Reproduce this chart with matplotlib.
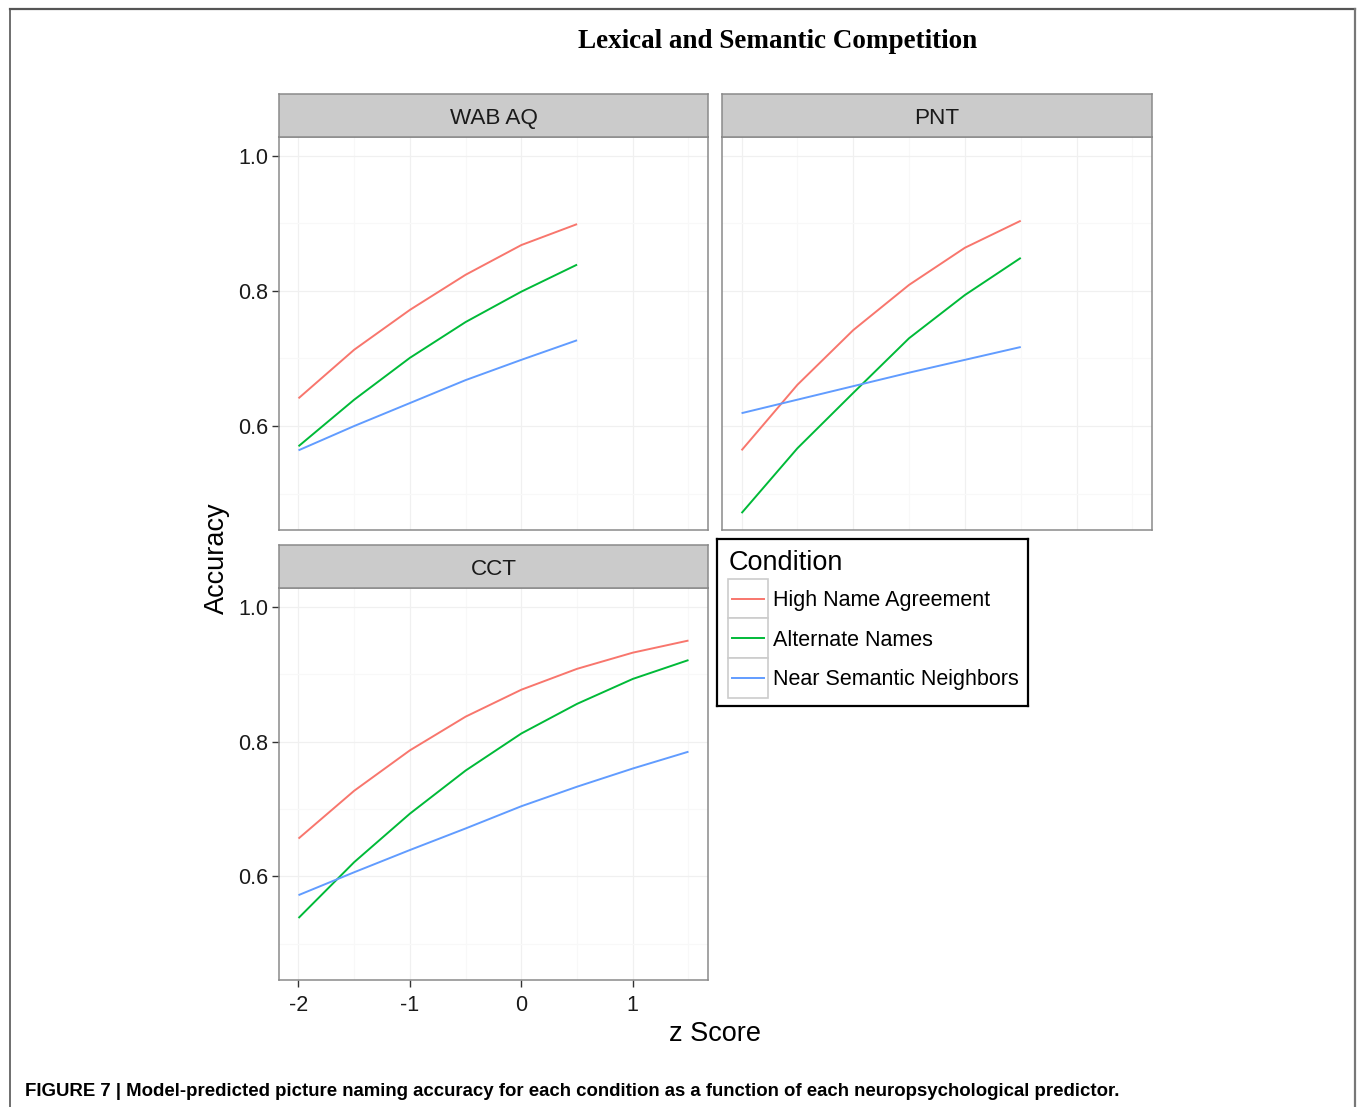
import matplotlib
matplotlib.use('Agg')
import matplotlib.pyplot as plt
from matplotlib.patches import Rectangle
from matplotlib.lines import Line2D

# Data
conditions = ['High Name Agreement', 'Alternate Names', 'Near Semantic Neighbors']
colors = ['#F8766D', '#00BA38', '#619CFF']

z_wab = [-2, -1.5, -1, -0.5, 0, 0.5]
wab_high = [0.641, 0.713, 0.772, 0.824, 0.868, 0.899]
wab_alt = [0.570, 0.639, 0.701, 0.754, 0.799, 0.839]
wab_near = [0.564, 0.600, 0.634, 0.668, 0.698, 0.727]

z_pnt = [-2, -1.5, -1, -0.5, 0, 0.5]
pnt_high = [0.564, 0.661, 0.742, 0.809, 0.864, 0.904]
pnt_alt = [0.471, 0.567, 0.649, 0.730, 0.794, 0.849]
pnt_near = [0.619, 0.639, 0.659, 0.679, 0.698, 0.717]

z_cct = [-2, -1.5, -1, -0.5, 0, 0.5, 1, 1.5]
cct_high = [0.656, 0.727, 0.787, 0.837, 0.877, 0.908, 0.932, 0.950]
cct_alt = [0.538, 0.621, 0.693, 0.757, 0.812, 0.856, 0.893, 0.921]
cct_near = [0.572, 0.606, 0.639, 0.671, 0.704, 0.733, 0.760, 0.785]

x_ticks = [-2, -1, 0, 1]
y_ticks = [0.6, 0.8, 1.0]

W, H = 1358, 1107
plt.rcParams['font.family'] = ['Liberation Sans', 'DejaVu Sans']
fig = plt.figure(figsize=(W / 100, H / 100), dpi=100)


def px(left, top, right, bottom):
    return [left / W, 1 - bottom / H, (right - left) / W, (bottom - top) / H]


def panel(left, top, right, bottom, label, z, series, show_x, show_y):
    ax = fig.add_axes(px(left, top, right, bottom))
    ax.set_xlim(-2.175, 1.675)
    ax.set_ylim(0.446, 1.028)
    ax.set_xticks(x_ticks)
    ax.set_xticks([-1.5, -0.5, 0.5, 1.5], minor=True)
    ax.set_yticks(y_ticks)
    ax.set_yticks([0.5, 0.7, 0.9], minor=True)
    ax.grid(which='major', color='#F0F0F0', lw=0.9)
    ax.grid(which='minor', color='#F8F8F8', lw=0.9)
    ax.set_axisbelow(True)
    for s in ax.spines.values():
        s.set_color('#8A8A8A')
        s.set_linewidth(1.1)
    for vals, c in zip(series, colors):
        ax.plot(z, vals, color=c, lw=1.4, solid_capstyle='butt')
    ax.tick_params(which='minor', length=0)
    ax.tick_params(which='major', length=5, width=1, color='#333333',
                   labelsize=15.5, labelcolor='#1A1A1A', pad=3)
    ax.tick_params(axis='x', pad=6)
    if show_y:
        ax.set_yticklabels(['0.6', '0.8', '1.0'])
    else:
        ax.tick_params(axis='y', length=0, labelleft=False)
    if show_x:
        ax.set_xticklabels(['-2', '-1', '0', '1'])
    else:
        ax.tick_params(axis='x', length=0, labelbottom=False)

    # facet strip
    st = fig.add_axes(px(left, top - 43, right, top))
    st.set_facecolor('#CBCBCB')
    st.set_xticks([])
    st.set_yticks([])
    for s in st.spines.values():
        s.set_color('#8A8A8A')
        s.set_linewidth(1.1)
    st.text(0.5, 0.43, label, ha='center', va='center', fontsize=16.2, color='#1A1A1A',
            transform=st.transAxes)
    return ax


panel(279, 137, 708, 530, 'WAB AQ', z_wab, [wab_high, wab_alt, wab_near], False, True)
panel(722, 137, 1152, 530, 'PNT', z_pnt, [pnt_high, pnt_alt, pnt_near], False, False)
panel(279, 588, 708, 980, 'CCT', z_cct, [cct_high, cct_alt, cct_near], True, True)

# axis titles
fig.text(715 / W, 1 - 1034 / H, 'z Score', ha='center', va='center', fontsize=19.5)
fig.text(217 / W, 1 - 558 / H, 'Accuracy', ha='center', va='center', fontsize=19.5, rotation=90)

# legend drawn ggplot style
lg = fig.add_axes(px(717, 539, 1028, 706))
lg.set_xlim(0, 311)
lg.set_ylim(167, 0)
lg.set_xticks([])
lg.set_yticks([])
for s in lg.spines.values():
    s.set_color('black')
    s.set_linewidth(1.6)
lg.text(12, 24, 'Condition', ha='left', va='center', fontsize=19.5)
for i, (name, c) in enumerate(zip(conditions, colors)):
    top = 40 + i * 39.5
    lg.add_patch(Rectangle((11, top), 40, 39.5, facecolor='white', edgecolor='#CCCCCC', lw=1.2))
    lg.plot([15, 47], [top + 20, top + 20], color=c, lw=1.4)
    lg.text(56, top + 22, name, ha='left', va='center', fontsize=15.5)

# title and caption
fig.text(778 / W, 1 - 41 / H, 'Lexical and Semantic Competition', ha='center', va='center',
         fontsize=19.5, fontweight='bold', family=['Liberation Serif', 'DejaVu Serif'])
fig.text(25 / W, 1 - 1092 / H,
         'FIGURE 7 | Model-predicted picture naming accuracy for each condition as a function of each neuropsychological predictor.',
         ha='left', va='center', fontsize=13.4, fontweight='bold')

# outer frame (top, left, right)
fig.add_artist(Line2D([10 / W, 10 / W], [0, 1 - 9 / H], transform=fig.transFigure, color='#555555', lw=1.2))
fig.add_artist(Line2D([10 / W, 1355 / W], [1 - 9 / H, 1 - 9 / H], transform=fig.transFigure, color='#555555', lw=1.6))
fig.add_artist(Line2D([1355 / W, 1355 / W], [0, 1 - 9 / H], transform=fig.transFigure, color='#777777', lw=1.6))

fig.savefig('out.png', dpi=100)
